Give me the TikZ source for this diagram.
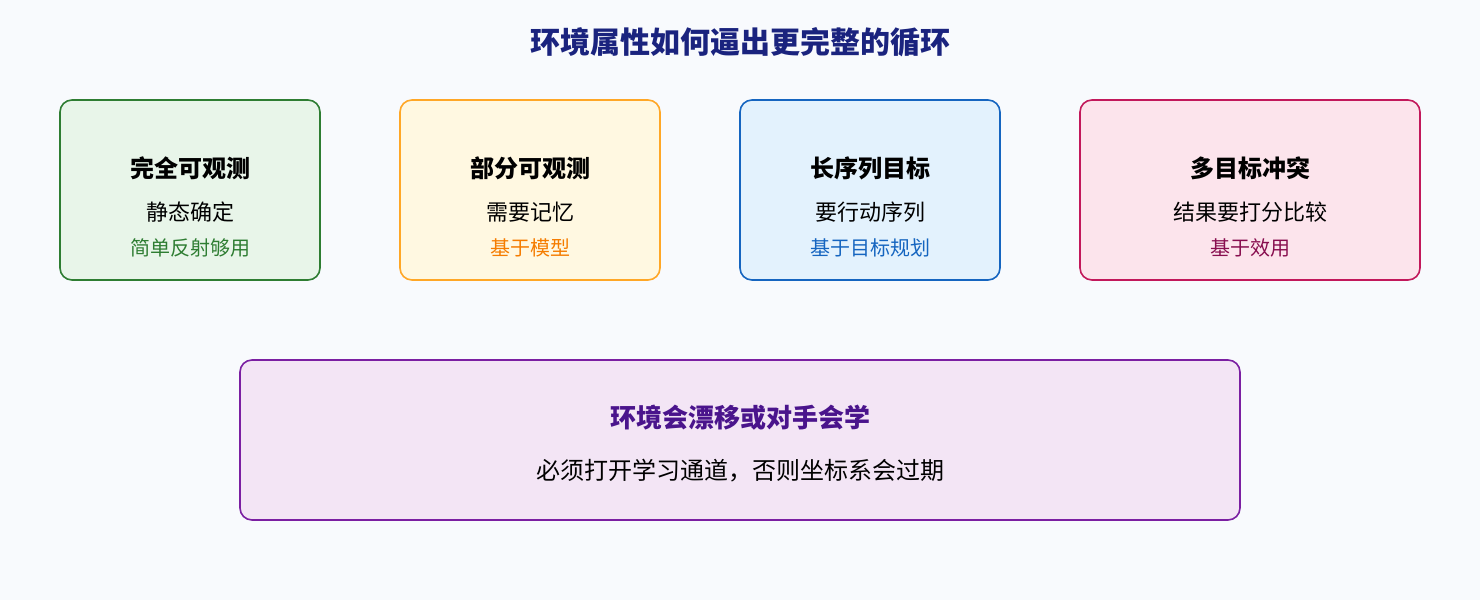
\documentclass[tikz,border=0pt]{standalone}
\usepackage{fontspec}
\setmainfont{Noto Sans CJK SC}
\definecolor{bgpaper}{HTML}{F8FAFD}
\definecolor{titlenavy}{HTML}{1A237E}
\definecolor{greenline}{HTML}{2E7D32}
\definecolor{greenfill}{HTML}{E8F5E9}
\definecolor{orangeline}{HTML}{FFA726}
\definecolor{orangefill}{HTML}{FFF8E1}
\definecolor{orangetext}{HTML}{F57C00}
\definecolor{blueline}{HTML}{1565C0}
\definecolor{bluefill}{HTML}{E3F2FD}
\definecolor{pinkline}{HTML}{C2185B}
\definecolor{pinkfill}{HTML}{FCE4EC}
\definecolor{pinktext}{HTML}{880E4F}
\definecolor{purpleline}{HTML}{7B1FA2}
\definecolor{purplefill}{HTML}{F3E5F5}
\definecolor{purpletext}{HTML}{4A148C}
\begin{document}
\begin{tikzpicture}[x=1pt,y=-1pt]
			    \tikzstyle{every node}=[inner sep=0pt,anchor=center]
			    \tikzset{propbox/.style={draw,rectangle,rounded corners=12pt,line width=1.6pt,minimum height=180pt}}
			    \tikzset{proptitle/.style={font=\bfseries\fontsize{24}{28}\selectfont}}
			    \tikzset{propsub/.style={font=\fontsize{22}{26}\selectfont}}
			    \tikzset{propnote/.style={font=\fontsize{20}{24}\selectfont}}
			    \fill[bgpaper] (0,0) rectangle (1480,600);
			    \useasboundingbox (0,0) rectangle (1480,600);
			    \node[font=\bfseries\fontsize{30}{34}\selectfont,text=titlenavy] (title) at (740,42) {环境属性如何逼出更完整的循环};
			    % four boxes
			    \node[propbox,draw=greenline,fill=greenfill,minimum width=260pt] (full) at (190,190) {};
			    \node[propbox,draw=orangeline,fill=orangefill,minimum width=260pt] (partial) at (530,190) {};
			    \node[propbox,draw=blueline,fill=bluefill,minimum width=260pt] (long) at (870,190) {};
			    \node[propbox,draw=pinkline,fill=pinkfill,minimum width=340pt] (multi) at (1250,190) {};
			    \node[proptitle] (fulltitle) at (190,168) {完全可观测};
			    \node[propsub] (fullsub) at (190,212) {静态确定};
			    \node[propnote,text=greenline] (fullnote) at (190,248) {简单反射够用};
			    \node[proptitle] (partialtitle) at (530,168) {部分可观测};
			    \node[propsub] (partialsub) at (530,212) {需要记忆};
			    \node[propnote,text=orangetext] (partialnote) at (530,248) {基于模型};
			    \node[proptitle] (longtitle) at (870,168) {长序列目标};
			    \node[propsub] (longsub) at (870,212) {要行动序列};
			    \node[propnote,text=blueline] (longnote) at (870,248) {基于目标规划};
			    \node[proptitle] (multititle) at (1250,168) {多目标冲突};
			    \node[propsub] (multisub) at (1250,212) {结果要打分比较};
			    \node[propnote,text=pinktext] (multinote) at (1250,248) {基于效用};
			    % drifting environment
			    \node[propbox,draw=purpleline,fill=purplefill,minimum width=1000pt,minimum height=160pt] (drift) at (740,440) {};
			    \node[proptitle,text=purpletext,font=\bfseries\fontsize{26}{30}\selectfont] (drifttitle) at (740,418) {环境会漂移或对手会学};
			    \node[propsub,font=\fontsize{24}{28}\selectfont] (driftsub) at (740,471) {必须打开学习通道，否则坐标系会过期};
\end{tikzpicture}
\end{document}
